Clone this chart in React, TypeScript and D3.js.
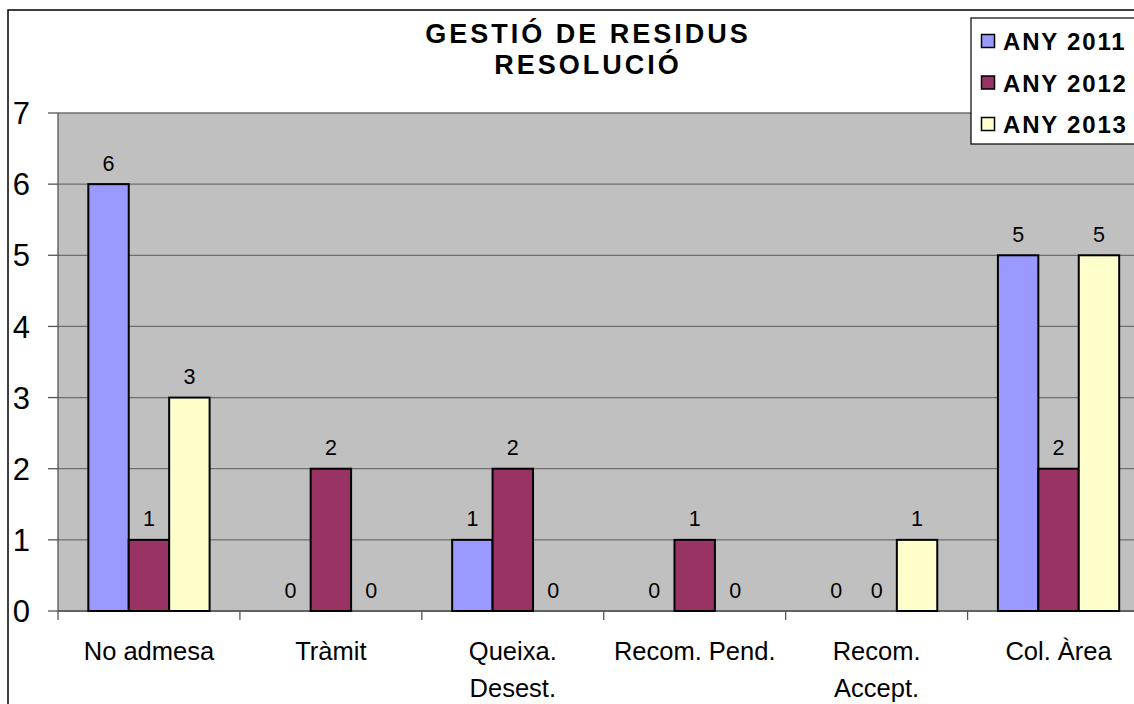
import React from "react";
import * as d3 from "d3";

const categories: string[][] = [
  ["No admesa"],
  ["Tràmit"],
  ["Queixa.", "Desest."],
  ["Recom. Pend."],
  ["Recom.", "Accept."],
  ["Col. Àrea"],
];
const seriesNames = ["ANY 2011", "ANY 2012", "ANY 2013"];
const values2011 = [6, 0, 1, 0, 0, 5];
const values2012 = [1, 2, 2, 1, 0, 2];
const values2013 = [3, 0, 0, 0, 1, 5];
const yTicks = [0, 1, 2, 3, 4, 5, 6, 7];
const colors = ["#9999FF", "#993366", "#FFFFCC"];

const W = 1134;
const H = 704;
const plotLeft = 58;
const plotRight = 1149.5;
const plotTop = 113;
const plotBottom = 611;

export default function App() {
  const series = [values2011, values2012, values2013];
  const keys = categories.map((_, i) => String(i));
  const x = d3.scaleBand<string>().domain(keys).range([plotLeft, plotRight]).paddingInner(0).paddingOuter(0);
  const bw = x.bandwidth();
  const barW = bw / 4.5;
  const groupOff = barW * 0.75;
  const y = d3.scaleLinear().domain([0, 7]).range([plotBottom, plotTop]);
  const font = "'Liberation Sans', Arial, sans-serif";

  return (
    <svg
      width={W}
      height={H}
      style={{ position: "fixed", left: 0, top: 0, background: "#fff" }}
      fontFamily={font}
    >
      <rect x={0} y={0} width={W} height={H} fill="#fff" />
      {/* outer chart border */}
      <rect x={8} y={10} width={W + 20} height={H + 20} fill="none" stroke="#000" strokeWidth={1.5} />
      {/* plot area */}
      <rect x={plotLeft} y={plotTop} width={plotRight - plotLeft} height={plotBottom - plotTop} fill="#C0C0C0" />
      {yTicks.map((t) => (
        <line key={"g" + t} x1={plotLeft} x2={plotRight} y1={y(t)} y2={y(t)} stroke="#6e6e6e" strokeWidth={1.3} />
      ))}
      {/* y axis */}
      <line x1={plotLeft} x2={plotLeft} y1={plotTop} y2={plotBottom} stroke="#555" strokeWidth={1.3} />
      {yTicks.map((t) => (
        <g key={"yt" + t}>
          <line x1={plotLeft - 10} x2={plotLeft} y1={y(t)} y2={y(t)} stroke="#555" strokeWidth={1.3} />
          <text x={30} y={y(t)} dy="0.36em" textAnchor="end" fontSize={31} fill="#000">
            {t}
          </text>
        </g>
      ))}
      {/* x axis */}
      <line x1={plotLeft} x2={plotRight} y1={plotBottom} y2={plotBottom} stroke="#555" strokeWidth={1.3} />
      {keys.concat(["6"]).map((k, i) => {
        const xx = plotLeft + i * bw;
        return <line key={"xt" + i} x1={xx} x2={xx} y1={plotBottom} y2={plotBottom + 9} stroke="#555" strokeWidth={1.3} />;
      })}
      {/* bars */}
      {series.map((vals, si) =>
        vals.map((v, ci) => {
          const bx = (x(keys[ci]) as number) + groupOff + si * barW;
          return (
            <g key={`b${si}-${ci}`}>
              {v > 0 && (
                <rect x={bx} y={y(v)} width={barW} height={y(0) - y(v)} fill={colors[si]} stroke="#000" strokeWidth={2} />
              )}
              <text x={bx + barW / 2} y={y(v) - 13.5} textAnchor="middle" fontSize={21.5} fill="#000">
                {v}
              </text>
            </g>
          );
        })
      )}
      {/* category labels */}
      {categories.map((lines, ci) => (
        <text key={"c" + ci} x={(x(keys[ci]) as number) + bw / 2} textAnchor="middle" fontSize={25.5} fill="#000">
          {lines.map((ln, li) => (
            <tspan key={li} x={(x(keys[ci]) as number) + bw / 2} y={660 + li * 37}>
              {ln}
            </tspan>
          ))}
        </text>
      ))}
      {/* title */}
      <text x={588} textAnchor="middle" fontSize={27} fontWeight="bold" fill="#000" letterSpacing={3}>
        <tspan x={588} y={43}>GESTIÓ DE RESIDUS</tspan>
        <tspan x={588} y={74}>RESOLUCIÓ</tspan>
      </text>
      {/* legend */}
      <rect x={971} y={18} width={200} height={126} fill="#fff" stroke="#000" strokeWidth={1.2} />
      {seriesNames.map((nm, i) => {
        const cy = 41.5 + i * 41.5;
        return (
          <g key={"l" + i}>
            <rect x={981.5} y={cy - 7} width={13} height={13} fill={colors[i]} stroke="#000" strokeWidth={1.5} />
            <text x={1003} y={cy} dy="0.36em" fontSize={24} fontWeight="bold" fill="#000" letterSpacing={1.8}>
              {nm}
            </text>
          </g>
        );
      })}
    </svg>
  );
}
